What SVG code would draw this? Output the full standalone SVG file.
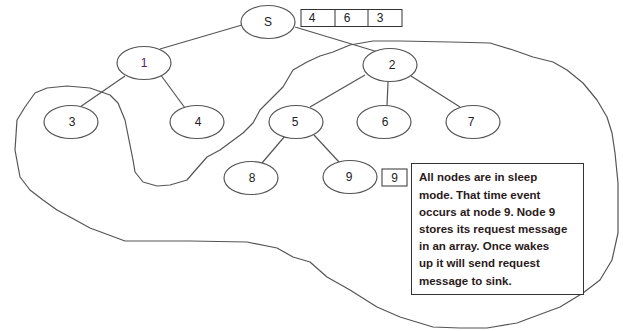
<svg xmlns="http://www.w3.org/2000/svg" width="623" height="331" viewBox="0 0 623 331">
<style>
.n{fill:#fff;stroke:#555;stroke-width:1.2}
.lbl{font-family:"Liberation Sans",Arial,sans-serif;font-size:12px;fill:#222;text-anchor:middle}
.e{stroke:#555;stroke-width:1.2;fill:none}
.box{fill:#fff;stroke:#333;stroke-width:1}
.note{font-family:"Liberation Sans",Arial,sans-serif;font-size:11.5px;font-weight:bold;fill:#2a1a1a}
.loop{fill:none;stroke:#555;stroke-width:1.2;stroke-linejoin:round}
</style>
<rect width="623" height="331" fill="#fff"/>
<path class="loop" d="M15,150 L17,120 L25,107 L35,93 L47,88 L67,86 L90,88 L110,95 L118,103 L125,120 L129,140 L133,160 L135,172 L143,182 L157,186 L170,185 L187,180 L193,173 L207,157 L220,150 L243,133 L253,123 L260,110 L273,97 L283,87 L293,70 L307,62 L320,56 L333,52 L350,45 L373,41 L400,41 L450,42 L490,43 L513,50 L533,57 L553,62 L567,70 L583,83 L597,100 L607,117 L612,133 L615,153 L618,183 L618,233 L612,260 L600,280 L583,293 L560,307 L533,317 L517,323 L487,328 L460,328 L433,327 L400,317 L377,307 L350,290 L327,277 L310,262 L293,257 L277,248 L247,242 L190,241 L125,241 L90,228 L70,217 L57,210 L43,200 L30,190 L20,177 Z"/>
<g id="connectors">
<line class="e" x1="242" y1="25" x2="160" y2="49"/>
<line class="e" x1="295" y1="27" x2="378" y2="52"/>
<line class="e" x1="125" y1="76" x2="80" y2="107"/>
<line class="e" x1="160" y1="74" x2="185" y2="108"/>
<line class="e" x1="365" y1="75" x2="310" y2="107"/>
<line class="e" x1="388" y1="82" x2="387" y2="106"/>
<line class="e" x1="411" y1="76" x2="460" y2="107"/>
<line class="e" x1="285" y1="136" x2="262" y2="163"/>
<line class="e" x1="314" y1="135" x2="339" y2="162"/>
</g>
<g id="node-S"><ellipse class="n" cx="268" cy="22" rx="27" ry="16.5"/><text class="lbl" x="268" y="26">S</text></g>
<g id="array-S">
<rect class="box" x="301" y="9.5" width="101" height="17"/>
<line class="box" x1="335" y1="9.5" x2="335" y2="26.5"/>
<line class="box" x1="368" y1="9.5" x2="368" y2="26.5"/>
<text class="lbl" x="312" y="22">4</text><text class="lbl" x="347" y="22">6</text><text class="lbl" x="380" y="22">3</text>
</g>
<g id="node-1"><ellipse class="n" cx="144" cy="63" rx="27" ry="16.5"/><text class="lbl" x="144" y="67" style="fill:#5a1a6a">1</text></g>
<g id="node-2"><ellipse class="n" cx="390" cy="65" rx="27" ry="16.5"/><text class="lbl" x="392" y="69">2</text></g>
<g id="node-3"><ellipse class="n" cx="71" cy="122" rx="27" ry="16.5"/><text class="lbl" x="72" y="126">3</text></g>
<g id="node-4"><ellipse class="n" cx="197" cy="122" rx="27" ry="16.5"/><text class="lbl" x="198" y="126">4</text></g>
<g id="node-5"><ellipse class="n" cx="296" cy="122" rx="27" ry="16.5"/><text class="lbl" x="295" y="126">5</text></g>
<g id="node-6"><ellipse class="n" cx="384" cy="122" rx="27" ry="16.5"/><text class="lbl" x="385" y="126">6</text></g>
<g id="node-7"><ellipse class="n" cx="473" cy="122" rx="27" ry="16.5"/><text class="lbl" x="471" y="126">7</text></g>
<g id="node-8"><ellipse class="n" cx="251" cy="178" rx="27" ry="16.5"/><text class="lbl" x="252" y="182">8</text></g>
<g id="node-9"><ellipse class="n" cx="350" cy="177" rx="27" ry="16.5"/><text class="lbl" x="349" y="181">9</text></g>
<g id="array-9"><rect class="box" x="382" y="169" width="25" height="17"/><text class="lbl" x="394.5" y="182">9</text></g>
<g id="note">
<rect class="box" x="411.5" y="163.5" width="172" height="131"/>
<text class="note" x="419">
<tspan x="419" y="181">All nodes are in sleep</tspan>
<tspan x="419" y="199">mode. That time event</tspan>
<tspan x="419" y="216">occurs at node 9. Node 9</tspan>
<tspan x="419" y="233">stores its request message</tspan>
<tspan x="419" y="250">in an array.  Once wakes</tspan>
<tspan x="419" y="267">up it will send request</tspan>
<tspan x="419" y="285">message to sink.</tspan>
</text>
</g>
</svg>
